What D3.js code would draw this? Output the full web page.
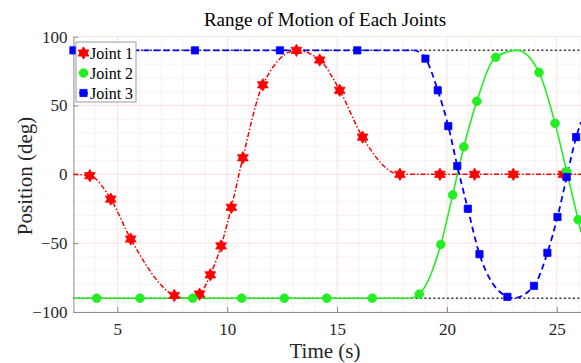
<!DOCTYPE html>
<html>
<head>
<meta charset="utf-8">
<script src="https://cdn.jsdelivr.net/npm/d3@7"></script>
<style>
  body { margin: 0; background: #fff; }
  svg text { font-family: "Liberation Serif", "Times New Roman", serif; }
</style>
</head>
<body>
<div id="chart"></div>
<script>
const width = 581;
const height = 363;

// values: [time (s), position (deg)]
const joint1Markers = [[3.75, -1], [4.70, -18], [5.61, -47], [7.59, -88], [8.74, -87], [9.23, -73],
    [9.72, -52], [10.19, -24], [10.71, 12], [11.62, 65], [13.15, 90], [14.21, 83], [15.12, 61],
    [16.16, 27], [17.86, 0], [19.68, 0], [21.26, 0], [23.02, 0], [25.3, 0]];
const joint1Extra = [[3, 0], [8.15, -90], [26.1, 0]];

const joint2Markers = [[4.06, -90], [6.03, -90], [8.43, -90], [10.66, -90], [12.6, -90], [14.53, -90],
    [16.6, -90], [18.74, -87], [19.72, -51], [20.26, -15], [20.77, 20], [21.36, 53], [22.22, 85],
    [24.19, 74], [24.92, 37], [25.45, 2], [25.97, -33]];
const joint2Extra = [[3, -90], [18.3, -90], [23.2, 90], [26.1, -42]];

const joint3Markers = [[3, 90], [8.53, 90], [12.4, 90], [15.92, 90], [19.02, 84], [19.58, 61],
    [20.06, 35], [20.47, 6], [20.95, -25], [21.48, -58], [22.75, -89], [23.96, -81], [24.57, -57],
    [25.03, -31], [25.45, -2], [25.88, 27]];
const joint3Extra = [[18.5, 90], [23.0, -90], [26.1, 38]];

const limits = [90, -90];
const xTicks = [5, 10, 15, 20, 25];
const yTicks = [-100, -50, 0, 50, 100];
const seriesNames = ["Joint 1", "Joint 2", "Joint 3"];

const serif = "Liberation Serif, Times New Roman, serif";

const x = d3.scaleLinear().domain([3, 26.1]).range([73.4, 581]);
const y = d3.scaleLinear().domain([-100, 100]).range([312, 36.6]);

const svg = d3.select("#chart")
    .append("svg")
    .attr("width", width)
    .attr("height", height)
    .attr("font-family", serif);

svg.append("defs").append("clipPath")
    .attr("id", "plotClip")
    .append("rect")
    .attr("x", x.range()[0])
    .attr("y", y.range()[1])
    .attr("width", x.range()[1] - x.range()[0])
    .attr("height", y.range()[0] - y.range()[1]);

// grid
const grid = svg.append("g");
grid.selectAll(".xminor")
    .data(d3.range(4, 27, 1).filter(v => v % 5 !== 0))
    .join("line")
    .attr("x1", d => x(d)).attr("x2", d => x(d))
    .attr("y1", y(-100)).attr("y2", y(100))
    .attr("stroke", "#fdf1f1").attr("stroke-width", 1);
grid.selectAll(".yminor")
    .data(d3.range(-90, 100, 10).filter(v => v % 50 !== 0))
    .join("line")
    .attr("x1", x.range()[0]).attr("x2", x.range()[1])
    .attr("y1", d => y(d)).attr("y2", d => y(d))
    .attr("stroke", "#fdf1f1").attr("stroke-width", 1);
grid.selectAll(".xmajor")
    .data(xTicks)
    .join("line")
    .attr("x1", d => x(d)).attr("x2", d => x(d))
    .attr("y1", y(-100)).attr("y2", y(100))
    .attr("stroke", "#fbe0e0").attr("stroke-width", 1);
grid.selectAll(".ymajor")
    .data(yTicks)
    .join("line")
    .attr("x1", x.range()[0]).attr("x2", x.range()[1])
    .attr("y1", d => y(d)).attr("y2", d => y(d))
    .attr("stroke", "#fbe0e0").attr("stroke-width", 1);

// axes
const xAxis = svg.append("g")
    .attr("transform", `translate(0,${y(-100)})`)
    .call(d3.axisBottom(x).tickValues(xTicks).tickSizeInner(-5).tickSizeOuter(0).tickPadding(11));
const yAxis = svg.append("g")
    .attr("transform", `translate(${x(3)},0)`)
    .call(d3.axisLeft(y).tickValues(yTicks).tickSizeInner(-5).tickSizeOuter(0).tickPadding(6));
[xAxis, yAxis].forEach(a => {
    a.attr("font-family", serif).attr("font-size", 17);
    a.select(".domain").attr("stroke", "#8a8a8a");
    a.selectAll(".tick line").attr("stroke", "#8a8a8a");
    a.selectAll(".tick text").attr("fill", "#262626");
});

const line = d3.line()
    .x(d => x(d[0]))
    .y(d => y(d[1]))
    .curve(d3.curveMonotoneX);

const sortPts = (a, b) => a.concat(b).sort((p, q) => p[0] - q[0]);

const plot = svg.append("g").attr("clip-path", "url(#plotClip)");

// reference limits
plot.selectAll(".limit")
    .data(limits)
    .join("line")
    .attr("x1", x.range()[0]).attr("x2", x.range()[1])
    .attr("y1", d => y(d)).attr("y2", d => y(d))
    .attr("stroke", "#333").attr("stroke-width", 1.5)
    .attr("stroke-dasharray", "2,2.5");

plot.append("path")
    .datum(sortPts(joint1Markers, joint1Extra))
    .attr("d", line)
    .attr("fill", "none").attr("stroke", "#ff0000").attr("stroke-width", 1.5)
    .attr("stroke-dasharray", "5,2,1.5,2");

plot.append("path")
    .datum(sortPts(joint2Markers, joint2Extra))
    .attr("d", line)
    .attr("fill", "none").attr("stroke", "#22ee22").attr("stroke-width", 1.6);

plot.append("path")
    .datum(sortPts(joint3Markers, joint3Extra))
    .attr("d", line)
    .attr("fill", "none").attr("stroke", "#0000ff").attr("stroke-width", 1.8)
    .attr("stroke-dasharray", "6,4");

// hexagram symbol
const hexagram = {
    draw(ctx, size) {
        const R = Math.sqrt(size / 1.3);
        const r = R / Math.sqrt(3);
        for (let i = 0; i < 12; i++) {
            const a = -Math.PI / 2 + i * Math.PI / 6;
            const rad = i % 2 === 0 ? R : r;
            if (i === 0) ctx.moveTo(rad * Math.cos(a), rad * Math.sin(a));
            else ctx.lineTo(rad * Math.cos(a), rad * Math.sin(a));
        }
        ctx.closePath();
    }
};

const markerStyles = [
    { data: joint1Markers, type: hexagram, size: 50, color: "#ff0000" },
    { data: joint2Markers, type: d3.symbolCircle, size: 60, color: "#22ee22" },
    { data: joint3Markers, type: d3.symbolSquare, size: 52, color: "#0000ff" }
];

markerStyles.forEach(s => {
    svg.append("g").selectAll("path")
        .data(s.data)
        .join("path")
        .attr("transform", d => `translate(${x(d[0])},${y(d[1])})`)
        .attr("d", d3.symbol().type(s.type).size(s.size))
        .attr("fill", s.color)
        .attr("stroke", s.color)
        .attr("stroke-width", 0.8);
});

// legend
const legend = svg.append("g");
legend.append("rect")
    .attr("x", 76).attr("y", 42)
    .attr("width", 60).attr("height", 60)
    .attr("fill", "#fff").attr("stroke", "#9a9a9a").attr("stroke-width", 1);
markerStyles.forEach((s, i) => {
    const cy = 53 + i * 20;
    legend.append("line")
        .attr("x1", 79).attr("x2", 88)
        .attr("y1", cy).attr("y2", cy)
        .attr("stroke", s.color).attr("stroke-width", 1.5);
    legend.append("path")
        .attr("transform", `translate(83.5,${cy})`)
        .attr("d", d3.symbol().type(s.type).size(s.size))
        .attr("fill", s.color).attr("stroke", s.color).attr("stroke-width", 0.8);
    legend.append("text")
        .attr("x", 90).attr("y", cy + 5.5)
        .attr("font-size", 16).attr("fill", "#000")
        .text(seriesNames[i]);
});

// titles
svg.append("text")
    .attr("x", 325).attr("y", 26)
    .attr("text-anchor", "middle")
    .attr("font-size", 19).attr("fill", "#000")
    .text("Range of Motion of Each Joints");

svg.append("text")
    .attr("x", 325).attr("y", 358)
    .attr("text-anchor", "middle")
    .attr("font-size", 21).attr("fill", "#262626")
    .text("Time (s)");

svg.append("text")
    .attr("transform", "translate(32,176) rotate(-90)")
    .attr("text-anchor", "middle")
    .attr("font-size", 21).attr("fill", "#262626")
    .text("Position (deg)");
</script>
</body>
</html>
